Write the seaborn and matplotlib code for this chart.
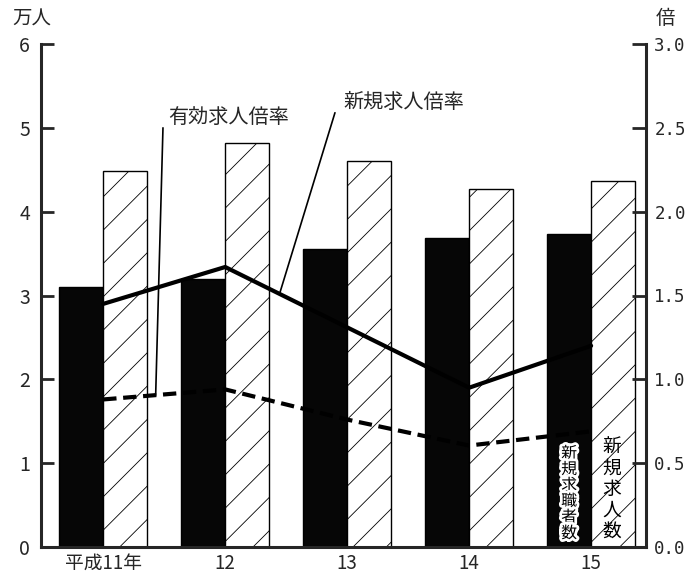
import numpy as np
import pandas as pd
import matplotlib
matplotlib.use("Agg")
import matplotlib.pyplot as plt
import matplotlib.patheffects as pe
import seaborn as sns

# ------ Data ------
years = ["平成11年", "12", "13", "14", "15"]
job_seekers = [3.10, 3.20, 3.56, 3.69, 3.73]      # 新規求職者数 (万人)
job_offers = [4.49, 4.82, 4.61, 4.27, 4.36]       # 新規求人数 (万人)
new_ratio = [1.45, 1.67, 1.31, 0.95, 1.20]        # 新規求人倍率 (倍)
active_ratio = [0.88, 0.94, 0.76, 0.605, 0.69]    # 有効求人倍率 (倍)

sns.set_style("white")
plt.rcParams["font.family"] = ["Noto Sans CJK JP", "DejaVu Sans"]
plt.rcParams["hatch.linewidth"] = 0.6

df = pd.DataFrame({
    "year": years * 2,
    "value": job_seekers + job_offers,
    "series": ["新規求職者数"] * 5 + ["新規求人数"] * 5,
})

fig = plt.figure(figsize=(7.0, 5.76), dpi=100)
ax = fig.add_axes([41 / 700, 1 - 547 / 576, (646 - 41) / 700, (547 - 44) / 576])

sns.barplot(data=df, x="year", y="value", hue="series",
            hue_order=["新規求職者数", "新規求人数"],
            palette={"新規求職者数": "#060606", "新規求人数": "white"},
            width=0.72, gap=0, edgecolor="black", linewidth=1.0,
            legend=False, ax=ax)
for bar in ax.containers[1]:
    bar.set_hatch("/")

ax.set_xlim(-0.51, 4.45)
ax.set_ylim(0, 6)
ax.set_xlabel("")
ax.set_ylabel("")
ax.set_yticks(range(7))
ax.set_xticks(range(5))
ax.set_xticklabels(years, fontsize=13.5)
ax.set_xticks([0.5, 1.5, 2.5, 3.5], minor=True)
ax.tick_params(axis="y", direction="in", length=9, width=2, labelsize=14, pad=8)
ax.tick_params(axis="x", which="major", length=0, pad=4)
ax.tick_params(axis="x", which="minor", direction="in", length=9, width=1.5)
for side in ["top", "right"]:
    ax.spines[side].set_visible(False)
for side in ["left", "bottom"]:
    ax.spines[side].set_linewidth(2.2)

# ------ Ratios on the right axis ------
ax2 = ax.twinx()
xpos = np.arange(len(years))
sns.lineplot(x=xpos, y=new_ratio, ax=ax2, color="black", linewidth=3.0)
sns.lineplot(x=xpos, y=active_ratio, ax=ax2, color="black", linewidth=3.0,
             linestyle=(0, (3.2, 1.6)))
ax2.set_ylim(0, 3)
ax2.set_yticks(np.arange(0, 3.01, 0.5))
ax2.set_yticklabels([f"{v:.1f}" for v in np.arange(0, 3.01, 0.5)],
                    family="DejaVu Sans Mono", fontsize=12.5)
ax2.tick_params(axis="y", direction="in", length=10, width=2, pad=6)
for side in ["top", "left", "bottom"]:
    ax2.spines[side].set_visible(False)
ax2.spines["right"].set_linewidth(2.2)

# ------ Labels with leader lines ------
ax2.text(0.53, 2.50, "有効求人倍率", ha="left", va="bottom", fontsize=14.5)
ax2.plot([0.49, 0.43], [2.50, 0.905], color="black", lw=1.2)
ax2.text(1.97, 2.59, "新規求人倍率", ha="left", va="bottom", fontsize=14.5)
ax2.plot([1.90, 1.45], [2.59, 1.52], color="black", lw=1.2)

# ------ Series names written inside the last bars ------
ax.text(4 - 0.18, 0.06, "\n".join("新規求職者数"), ha="center", va="bottom",
        fontsize=11.5, linespacing=0.92, color="black",
        path_effects=[pe.withStroke(linewidth=4, foreground="white")])
ax.text(4 + 0.17, 0.06, "\n".join("新規求人数"), ha="center", va="bottom",
        fontsize=13.5, linespacing=1.0, color="black")

# ------ Unit labels ------
fig.text(12 / 700, 1 - 19 / 576, "万人", ha="left", va="center", fontsize=14)
fig.text(656 / 700, 1 - 19 / 576, "倍", ha="left", va="center", fontsize=14)

fig.savefig("out.png", dpi=100)
plt.close(fig)
